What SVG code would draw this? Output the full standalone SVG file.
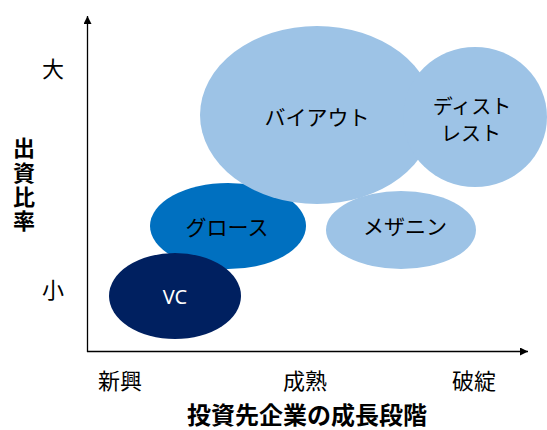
<svg xmlns="http://www.w3.org/2000/svg" width="547" height="430" viewBox="0 0 547 430">
<style>
.jp{font-family:"Noto Sans CJK JP","Noto Sans",sans-serif;fill:#000;text-anchor:middle}
.lbl{font-size:21px}
.ax{font-size:22px}
.ttl{font-size:24px;font-weight:bold}
.light{fill:#9DC3E6}
</style>
<defs>
<marker id="arr" viewBox="0 0 10 10" refX="10" refY="5" markerWidth="8" markerHeight="8" markerUnits="userSpaceOnUse" orient="auto">
<path d="M0,0 L10,5 L0,10 z" fill="#000"/>
</marker>
</defs>
<g id="connectors">
<line x1="87.5" y1="352" x2="87.5" y2="16" stroke="#000" stroke-width="1.3" marker-end="url(#arr)"/>
<line x1="87" y1="351.5" x2="528" y2="351.5" stroke="#000" stroke-width="1.3" marker-end="url(#arr)"/>
</g>
<g id="growth">
<ellipse cx="228" cy="226" rx="78" ry="43" fill="#0070C0"/>
</g>
<g id="buyout">
<ellipse cx="317" cy="115" rx="117" ry="89" class="light"/>
</g>
<g id="distress">
<ellipse cx="475" cy="117" rx="72" ry="70" class="light"/>
</g>
<g id="mezzanine">
<ellipse cx="401" cy="230" rx="75" ry="39" class="light"/>
</g>
<g id="vc">
<ellipse cx="175" cy="296" rx="66" ry="43" fill="#002060"/>
</g>
<g id="labels">
<text class="jp lbl" x="317" y="125">バイアウト</text>
<text class="jp" font-size="20" x="472" y="114">ディスト</text>
<text class="jp" font-size="20" x="471" y="141">レスト</text>
<text class="jp lbl" x="227" y="235">グロース</text>
<text class="jp lbl" x="405" y="234">メザニン</text>
<text x="175" y="304" font-family="'Noto Sans',sans-serif" font-size="20" fill="#fff" text-anchor="middle">VC</text>
</g>
<g id="axis-labels">
<text class="jp ax" x="53" y="77">大</text>
<text class="jp ax" x="53" y="298">小</text>
<text class="jp ax" x="120" y="389">新興</text>
<text class="jp ax" x="305" y="389">成熟</text>
<text class="jp ax" x="474" y="389">破綻</text>
<text class="jp ttl" x="307" y="424">投資先企業の成長段階</text>
<text x="24" y="137" font-family="'Noto Sans CJK JP',sans-serif" font-size="22" font-weight="bold" writing-mode="vertical-rl" letter-spacing="2.3" fill="#000">出資比率</text>
</g>
</svg>
